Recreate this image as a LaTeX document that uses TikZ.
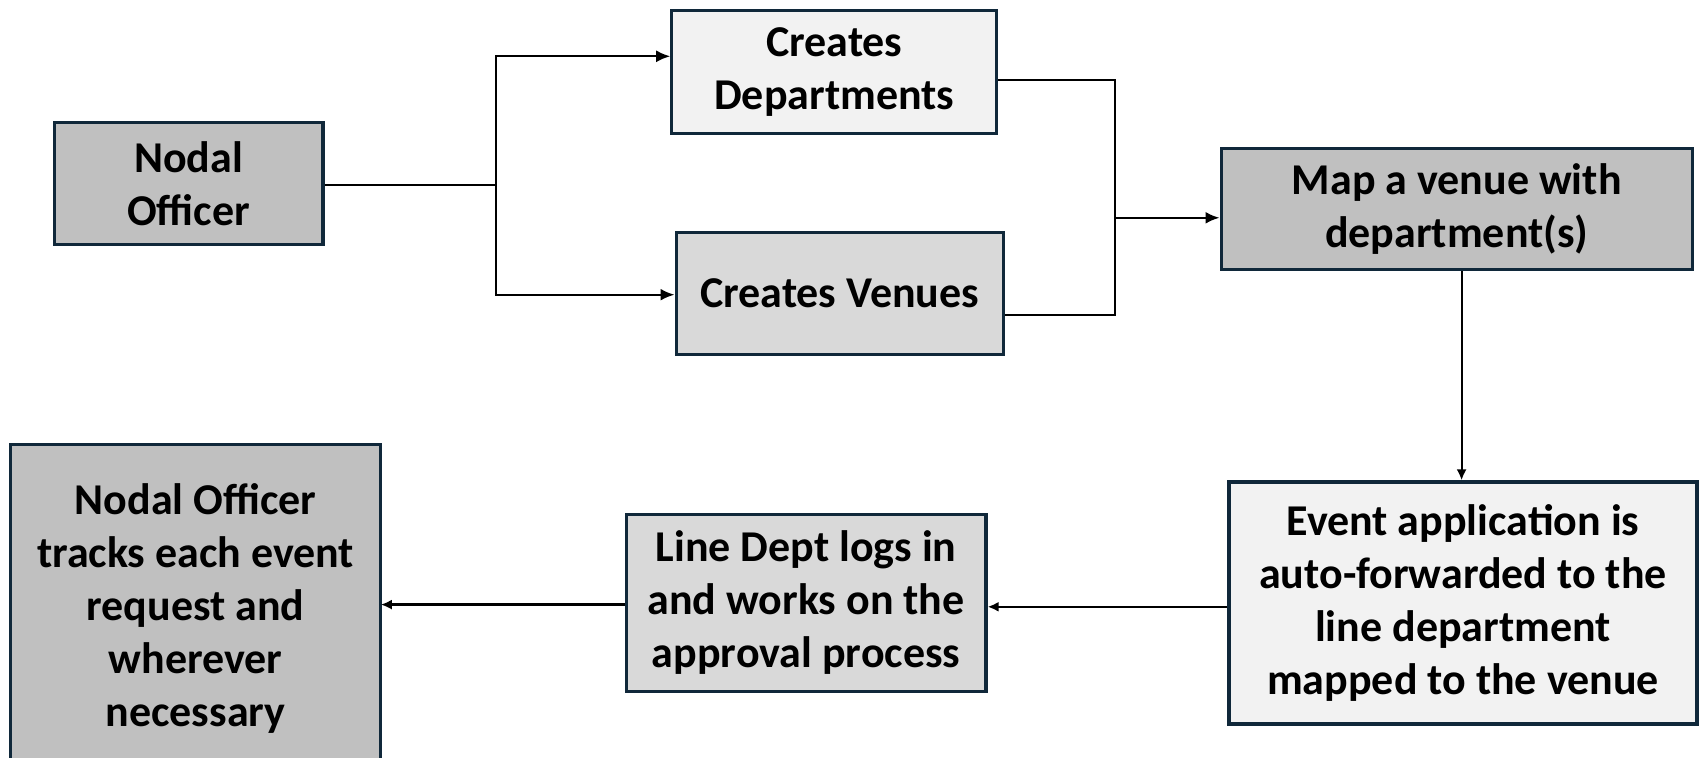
\documentclass[tikz,border=0pt]{standalone}
\usepackage{fontspec}
\setmainfont{Carlito}
\usepackage{tikz}
\usetikzlibrary{arrows.meta,backgrounds,calc}

\definecolor{boxline}{HTML}{10283A}
\definecolor{graydark}{HTML}{C0C0C0}
\definecolor{graymid}{HTML}{D9D9D9}
\definecolor{graylight}{HTML}{F2F2F2}

\begin{document}
\begin{tikzpicture}[x=0.5pt,y=-0.5pt,>={Latex[length=7pt,width=6pt]},
line width=1.1pt]
\tikzstyle{every box}=[rectangle, draw=boxline, line width=1.6pt,
align=center, inner sep=0pt, text=black,
font=\fontsize{22}{26.5}\selectfont\bfseries]
\tikzstyle{small tip}=[>={Latex[length=5.5pt,width=5pt]}]

\useasboundingbox (0,0) rectangle (1699,758);

%boxes
\node[every box, fill=graydark, minimum width=134.4pt, minimum height=61.2pt]
(nodal) at (188.5,183.7) {Nodal\\Officer};

\node[every box, fill=graylight, minimum width=162.5pt, minimum height=61.2pt]
(dept) at (834.3,72.1) {Creates\\Departments};

\node[every box, fill=graymid, minimum width=163.6pt, minimum height=60.7pt]
(venue) at (839.7,293.6) {Creates Venues};

\node[every box, fill=graydark, minimum width=235.7pt, minimum height=60.7pt]
(mapv) at (1456.8,209.1) {Map a venue with\\department(s)};

\node[every box, fill=graylight, minimum width=234pt, minimum height=121pt]
(event) at (1463,603) {Event application is\\auto-forwarded to the\\line department\\mapped to the venue};

\node[every box, fill=graymid, minimum width=179.9pt, minimum height=88.3pt]
(linedept) at (806.1,603) {Line Dept logs in\\and works on the\\approval process};

\node[every box, draw=none, minimum width=183.6pt, inner ysep=19pt, anchor=north]
(track) at (195.6,444.2) {Nodal Officer\\tracks each event\\request and\\wherever\\necessary};
\begin{scope}[on background layer]
\draw[boxline, line width=1.6pt, fill=graydark] (track.north west) rectangle (track.east |- 0,820);
\end{scope}

%connectors
\coordinate (split) at (496.2,185.3);
\coordinate (merge) at (1114.9,217.8);

\draw (nodal.east |- split) -- (split);
\draw[->] (split) |- (dept.west |- 0,56.3);
\draw[->] (split) |- (venue.west |- 0,294.7);
\draw (dept.east |- 0,80.2) -| (merge);
\draw (venue.east |- 0,315.3) -| (merge);
\draw[->] (merge) -- (mapv.west |- merge);

\draw[->, small tip] (mapv.south -| 1461.6,0) -- (event.north -| 1461.6,0);
\draw[->, small tip] (event.west |- 0,606.8) -- (linedept.east |- 0,606.8);
\draw[->, small tip] (linedept.west |- 0,604.6) -- (track.east |- 0,604.6);

\end{tikzpicture}
\end{document}
